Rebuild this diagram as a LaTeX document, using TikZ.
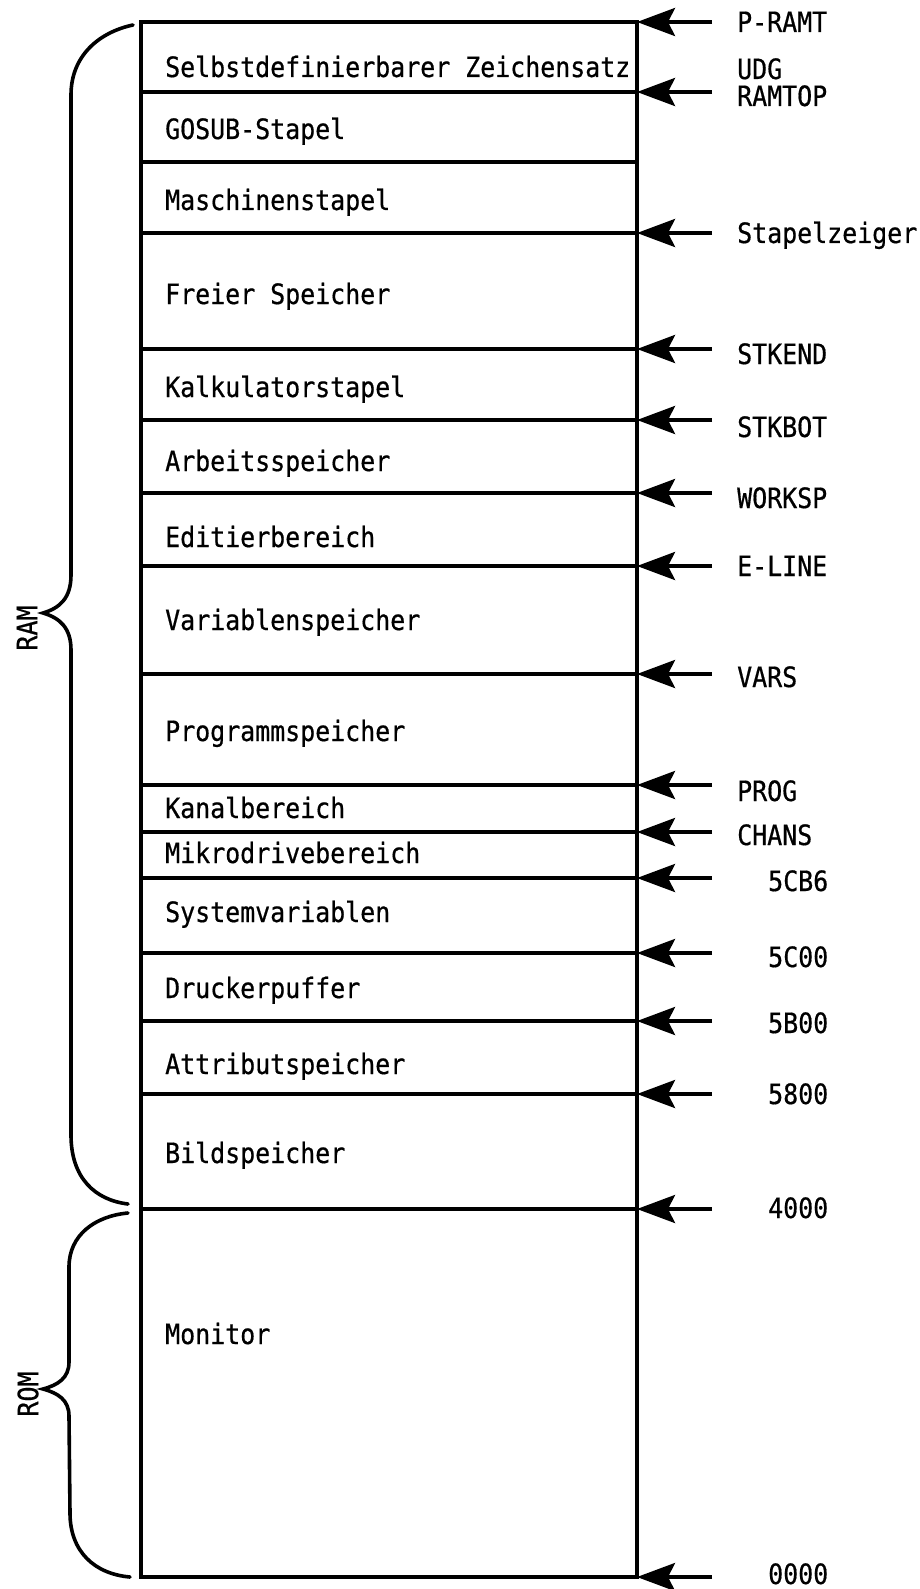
\documentclass[tikz,border=0pt]{standalone}
\usepackage{fontspec}
\newfontfamily\lgfont[FakeStretch=0.89,FakeBold=0.6]{DejaVu Sans Mono}
\usetikzlibrary{arrows.meta}
\begin{document}
\begin{tikzpicture}[x=1pt,y=-1pt,
  txt/.style={font=\lgfont\fontsize{28}{29}\selectfont, anchor=base west, inner sep=0pt},
  side/.style={font=\lgfont\fontsize{28}{29}\selectfont, rotate=90, inner sep=0pt},
  boxline/.style={line width=3.4pt},
  divline/.style={line width=3.8pt},
  arr/.style={line width=3.8pt, -{Stealth[length=38pt,width=28pt,inset=7pt]}},
  brace/.style={line width=3.6pt, line cap=round}]
\useasboundingbox (0,0) rectangle (920,1589);
% level lines
\foreach \n/\yy in {a/22, b/92, c/162, d/233, e/349, f/420, g/493, h/566, i/674, j/785, k/832, l/878, m/953, n/1021, o/1094, p/1209, q/1577}{
  \coordinate (L\n) at (141,\yy);
  \coordinate (R\n) at (637,\yy);
  \coordinate (A\n) at (712,\yy);
}
\draw[boxline] (La) rectangle (Rq);
\foreach \n in {b,c,d,e,f,g,h,i,j,k,l,m,n,o,p}{
  \draw[divline] (L\n) -- (R\n);
}
\foreach \n in {a,b,d,e,f,g,h,i,j,k,l,m,n,o,p,q}{
  \draw[arr] (A\n) -- (R\n);
}
% box texts
\node[txt] (t1) at (165,77) {Selbstdefinierbarer Zeichensatz};
\node[txt] (t2) at (165,139) {GOSUB-Stapel};
\node[txt] (t3) at (165,210) {Maschinenstapel};
\node[txt] (t4) at (165,304) {Freier Speicher};
\node[txt] (t5) at (165,397) {Kalkulatorstapel};
\node[txt] (t6) at (165,471) {Arbeitsspeicher};
\node[txt] (t7) at (165,547) {Editierbereich};
\node[txt] (t8) at (165,630) {Variablenspeicher};
\node[txt] (t9) at (165,741) {Programmspeicher};
\node[txt] (t10) at (165,818) {Kanalbereich};
\node[txt] (t11) at (165,863) {Mikrodrivebereich};
\node[txt] (t12) at (165,922) {Systemvariablen};
\node[txt] (t13) at (165,998) {Druckerpuffer};
\node[txt] (t14) at (165,1074) {Attributspeicher};
\node[txt] (t15) at (165,1163) {Bildspeicher};
\node[txt] (t16) at (165,1344) {Monitor};
% pointer labels
\node[txt] (p1) at (737,32) {P-RAMT};
\node[txt] (p2) at (737,79) {UDG};
\node[txt] (p3) at (737,106) {RAMTOP};
\node[txt] (p4) at (737,243) {Stapelzeiger};
\node[txt] (p5) at (737,364) {STKEND};
\node[txt] (p6) at (737,437) {STKBOT};
\node[txt] (p7) at (737,508) {WORKSP};
\node[txt] (p8) at (737,576) {E-LINE};
\node[txt] (p9) at (737,687) {VARS};
\node[txt] (p10) at (737,801) {PROG};
\node[txt] (p11) at (737,845) {CHANS};
\node[txt] (p12) at (768,891) {5CB6};
\node[txt] (p13) at (768,967) {5C00};
\node[txt] (p14) at (768,1033) {5B00};
\node[txt] (p15) at (768,1104) {5800};
\node[txt] (p16) at (768,1218) {4000};
\node[txt] (p17) at (768,1584) {0000};
% braces
\draw[brace] (133,25) .. controls (100,32) and (71,55) .. (71,95)
  -- (71,575) .. controls (71,598) and (60,608) .. (43,613)
  .. controls (60,618) and (71,628) .. (71,650)
  -- (71,1135) .. controls (71,1178) and (95,1200) .. (128,1204);
\draw[brace] (128,1213) .. controls (95,1216) and (69,1235) .. (69,1267)
  -- (69,1362) .. controls (69,1378) and (58,1385) .. (43,1389)
  .. controls (58,1393) and (69,1400) .. (69,1416)
  -- (70,1513) .. controls (70,1552) and (95,1574) .. (130,1577);
\node[side] (ram) at (27,628) {RAM};
\node[side] (rom) at (28,1394) {ROM};
\end{tikzpicture}
\end{document}
